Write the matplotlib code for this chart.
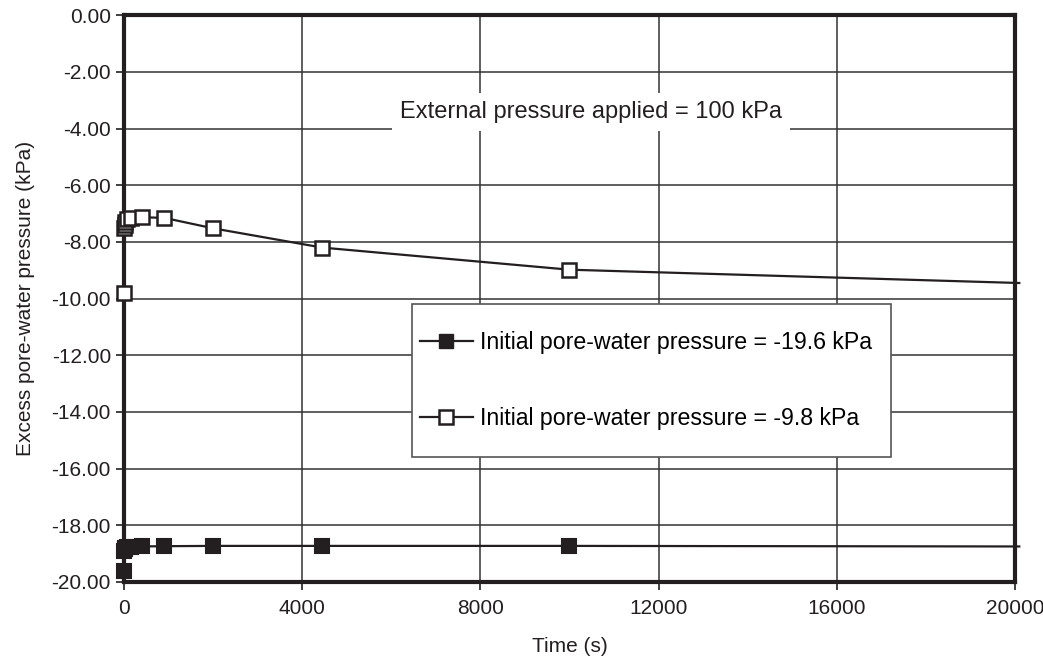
import matplotlib
matplotlib.use("Agg")
import matplotlib.pyplot as plt
from matplotlib.patches import Rectangle
from matplotlib.ticker import FormatStrFormatter

plt.rcParams['font.family'] = ['Liberation Sans', 'DejaVu Sans']

# time (s) and excess pore-water pressure (kPa)
t_196 = [0, 5, 15, 30, 60, 150, 400, 900, 2000, 4450, 10000, 20100]
p_196 = [-19.6, -18.9, -18.85, -18.8, -18.78, -18.76, -18.75, -18.74, -18.73, -18.73, -18.73, -18.75]

t_98 = [0, 5, 15, 30, 60, 150, 400, 900, 2000, 4450, 10000, 20100]
p_98 = [-9.8, -7.5, -7.4, -7.3, -7.2, -7.15, -7.13, -7.15, -7.52, -8.2, -8.98, -9.45]

label_196 = "Initial pore-water pressure = -19.6 kPa"
label_98 = "Initial pore-water pressure = -9.8 kPa"
note = "External pressure applied = 100 kPa"
ink = '#231f20'

fig = plt.figure(figsize=(10.43, 6.65), dpi=100)
ax = fig.add_axes([0.119, 0.125, 0.854, 0.852])

# last point is drawn without marker (line runs to the edge)
ax.plot(t_196, p_196, '-', color=ink, lw=1.6, clip_on=False, zorder=3)
ax.plot(t_196[:-1], p_196[:-1], 's', color=ink, mfc=ink, mec=ink, ms=10, mew=1.5,
        clip_on=False, zorder=4)
ax.plot(t_98, p_98, '-', color=ink, lw=1.6, clip_on=False, zorder=3)
ax.plot(t_98[:-1], p_98[:-1], 's', color=ink, mfc='white', mec=ink, ms=10, mew=1.8,
        clip_on=False, zorder=4)

# legend box drawn by hand, entries placed inside it
ax.add_patch(Rectangle((0.323, 0.2205), 0.538, 0.2695, transform=ax.transAxes,
                       facecolor='white', edgecolor='#555555', lw=1.2, zorder=5))
h1, = ax.plot([], [], '-s', color=ink, mfc=ink, mec=ink, ms=10, lw=1.6)
h2, = ax.plot([], [], '-s', color=ink, mfc='white', mec=ink, ms=10, lw=1.6, mew=1.8)
leg = ax.legend([h1, h2], [label_196, label_98], loc='upper left',
                bbox_to_anchor=(0.332, 0.443), fontsize=16.7, frameon=False,
                borderpad=0, labelspacing=2.3, handlelength=2.28,
                handletextpad=0.3, borderaxespad=0)
leg.set_zorder(6)

ax.text(10480, -3.42, note, ha='center', va='center',
        fontsize=17, color=ink, zorder=5,
        bbox=dict(facecolor='white', edgecolor='none', pad=6))

ax.set_xlim(0, 20000)
ax.set_ylim(-20, 0)
ax.set_xticks(range(0, 20001, 4000))
ax.set_yticks([-20 + 2 * i for i in range(11)])
ax.yaxis.set_major_formatter(FormatStrFormatter('%.2f'))
ax.grid(True, color='#333333', lw=1.1)
ax.set_axisbelow(True)
for s in ax.spines.values():
    s.set_linewidth(3)
    s.set_color(ink)
ax.tick_params(direction='out', length=6, width=1.2, labelsize=15, colors=ink)
ax.tick_params(axis='x', pad=6)

ax.set_xlabel("Time (s)", fontsize=15, color=ink, labelpad=14)
ax.set_ylabel("Excess pore-water pressure (kPa)", fontsize=15, color=ink, labelpad=12)

fig.savefig("out.png", dpi=100)
